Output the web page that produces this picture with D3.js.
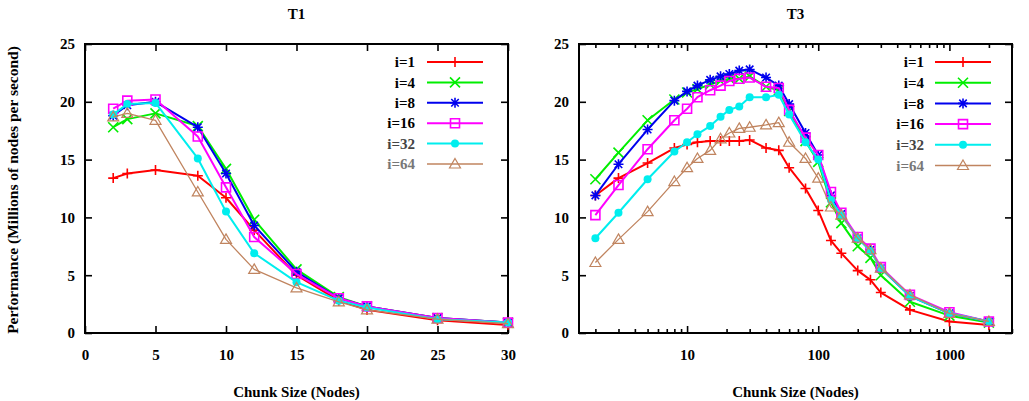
<!DOCTYPE html>
<html>
<head>
<meta charset="utf-8">
<script src="https://cdn.jsdelivr.net/npm/d3@7"></script>
<style>
  body { margin: 0; background: #fff; }
  svg { display: block; }
</style>
</head>
<body>
<div id="chart"></div>
<script>
// series labels
var seriesNames = ["i=1", "i=4", "i=8", "i=16", "i=32", "i=64"];

// T1 data (linear chunk size)
var t1X = [2, 3, 5, 8, 10, 12, 15, 18, 20, 25, 30];
var t1I1 = [13.4, 13.8, 14.1, 13.6, 11.7, 8.9, 5.0, 2.8, 2.0, 1.1, 0.7];
var t1I4 = [17.8, 18.5, 19.0, 17.9, 14.2, 9.8, 5.5, 3.1, 2.3, 1.3, 0.9];
var t1I8 = [18.8, 19.7, 20.0, 17.8, 13.8, 9.3, 5.3, 3.0, 2.3, 1.3, 0.9];
var t1I16 = [19.4, 20.1, 20.2, 17.0, 12.6, 8.3, 5.1, 3.0, 2.3, 1.3, 0.9];
var t1I32 = [18.9, 19.8, 19.9, 15.1, 10.5, 6.9, 4.4, 2.8, 2.2, 1.2, 0.9];
var t1I64 = [18.7, 19.0, 18.4, 12.2, 8.1, 5.5, 3.9, 2.7, 2.0, 1.2, 0.8];

// T3 data (log chunk size)
var t3X = [2, 3, 5, 8, 10, 12, 15, 18, 21, 25, 30, 40, 50, 60, 80, 100, 125, 150, 200, 250, 300, 500, 1000, 2000];
var t3I1 = [11.9, 13.4, 14.7, 16.0, 16.3, 16.5, 16.6, 16.6, 16.6, 16.6, 16.7, 16.0, 15.8, 14.3, 12.5, 10.6, 8.0, 6.9, 5.4, 4.6, 3.5, 2.0, 1.0, 0.7];
var t3I4 = [13.3, 15.6, 18.4, 20.2, 20.8, 21.1, 21.5, 21.8, 22.0, 22.0, 22.2, 21.3, 21.0, 19.2, 16.6, 14.8, 11.3, 9.5, 7.5, 6.5, 5.0, 2.7, 1.5, 0.9];
var t3I8 = [11.9, 14.6, 17.6, 20.1, 20.9, 21.4, 21.9, 22.2, 22.4, 22.7, 22.8, 22.1, 21.4, 19.8, 17.3, 15.4, 11.9, 10.3, 8.2, 7.2, 5.6, 3.2, 1.7, 1.0];
var t3I16 = [10.2, 12.8, 15.9, 18.4, 19.4, 20.4, 21.0, 21.4, 21.8, 22.0, 22.1, 21.3, 21.2, 19.3, 16.9, 15.4, 12.2, 10.4, 8.3, 7.3, 5.7, 3.3, 1.8, 1.0];
var t3I32 = [8.2, 10.4, 13.3, 15.7, 16.5, 17.2, 17.9, 18.7, 19.3, 19.6, 20.4, 20.4, 20.6, 18.9, 16.5, 15.0, 11.5, 10.2, 8.2, 7.1, 5.6, 3.2, 1.7, 1.0];
var t3I64 = [6.1, 8.1, 10.5, 13.1, 14.3, 15.1, 15.8, 16.8, 17.3, 17.7, 17.8, 18.0, 18.2, 16.5, 15.1, 13.4, 10.9, 10.2, 8.2, 7.2, 5.6, 3.3, 1.7, 1.0];

var yTicks = [0, 5, 10, 15, 20, 25];
var t1XTicks = [0, 5, 10, 15, 20, 25, 30];
var t3XMajor = [10, 100, 1000];

var colors = ["#ff0000", "#00ee00", "#0000ee", "#ff00ff", "#00eeee", "#c0845f"];
var widths = [2, 2, 2, 2, 2, 1.3];
var symbols = ["plus", "cross", "star", "square", "circle", "triangle"];
var legendTextColors = ["#000", "#000", "#000", "#000", "#444", "#777"];

var FONT = "'Liberation Serif', 'Times New Roman', serif";

var W = 1029, H = 401;
var svg = d3.select("#chart").append("svg").attr("width", W).attr("height", H)
  .style("font-family", FONT).style("font-weight", "bold");

function markerPath(type, s) {
  if (type == "plus") return "M" + -s + ",0H" + s + "M0," + -s + "V" + s;
  if (type == "cross") return "M" + -s + "," + -s + "L" + s + "," + s + "M" + -s + "," + s + "L" + s + "," + -s;
  if (type == "star") return "M" + -s + ",0H" + s + "M0," + -s + "V" + s +
    "M" + -s * 0.75 + "," + -s * 0.75 + "L" + s * 0.75 + "," + s * 0.75 +
    "M" + -s * 0.75 + "," + s * 0.75 + "L" + s * 0.75 + "," + -s * 0.75;
  if (type == "square") return "M" + -s + "," + -s + "H" + s + "V" + s + "H" + -s + "Z";
  if (type == "triangle") return "M0," + (-s * 1.1) + "L" + s * 1.1 + "," + s * 0.8 + "L" + -s * 1.1 + "," + s * 0.8 + "Z";
  return null;
}

function drawMarker(g, type, cx, cy, color) {
  if (type == "circle") {
    g.append("circle").attr("cx", cx).attr("cy", cy).attr("r", 4).attr("fill", color);
  } else {
    g.append("path")
      .attr("transform", "translate(" + cx + "," + cy + ")")
      .attr("d", markerPath(type, type == "square" ? 4.5 : 5))
      .attr("fill", "none")
      .attr("stroke", color)
      .attr("stroke-width", type == "triangle" ? 1.2 : 1.6);
  }
}

function addText(sel) {
  return sel.append("text").style("font-family", FONT).style("font-weight", "bold");
}

function drawPanel(opt) {
  var x = opt.x, y = opt.y;
  var g = svg.append("g");
  var x0 = x.range()[0], x1 = x.range()[1], y0 = y.range()[0], y1 = y.range()[1];

  // axes with inward ticks, mirrored on top and right
  g.append("g").attr("transform", "translate(0," + y0 + ")")
    .call(d3.axisBottom(x).tickValues(opt.xMajor).tickFormat(opt.xFormat).tickSize(-7).tickSizeOuter(0).tickPadding(16));
  g.append("g").attr("transform", "translate(0," + y1 + ")")
    .call(d3.axisTop(x).tickValues(opt.xMajor).tickFormat("").tickSize(-7).tickSizeOuter(0));
  if (opt.xMinor) {
    g.append("g").attr("transform", "translate(0," + y0 + ")")
      .call(d3.axisBottom(x).tickValues(opt.xMinor).tickFormat("").tickSize(-4).tickSizeOuter(0));
    g.append("g").attr("transform", "translate(0," + y1 + ")")
      .call(d3.axisTop(x).tickValues(opt.xMinor).tickFormat("").tickSize(-4).tickSizeOuter(0));
  }
  g.append("g").attr("transform", "translate(" + x0 + ",0)")
    .call(d3.axisLeft(y).tickValues(yTicks).tickSize(-7).tickSizeOuter(0).tickPadding(10));
  g.append("g").attr("transform", "translate(" + x1 + ",0)")
    .call(d3.axisRight(y).tickValues(yTicks).tickFormat("").tickSize(-7).tickSizeOuter(0));

  g.selectAll(".domain").remove();
  g.selectAll("g").attr("font-family", null);
  g.selectAll(".tick line").attr("stroke", "#000").attr("stroke-width", 1.6);
  g.selectAll(".tick text").attr("fill", "#000")
    .style("font-size", "15px").style("font-family", FONT).style("font-weight", "bold");

  g.append("rect")
    .attr("x", x0).attr("y", y1).attr("width", x1 - x0).attr("height", y0 - y1)
    .attr("fill", "none").attr("stroke", "#000").attr("stroke-width", 2);

  // series
  var line = d3.line()
    .x(function (d) { return x(d[0]); })
    .y(function (d) { return y(d[1]); });

  opt.series.forEach(function (vals, i) {
    var pts = opt.xs.map(function (v, j) { return [v, vals[j]]; });
    g.append("path").datum(pts)
      .attr("d", line)
      .attr("fill", "none")
      .attr("stroke", colors[i])
      .attr("stroke-width", widths[i])
      .attr("stroke-linejoin", "round");
    var mg = g.append("g");
    pts.forEach(function (p) { drawMarker(mg, symbols[i], x(p[0]), y(p[1]), colors[i]); });
  });

  // legend
  var lg = g.append("g");
  seriesNames.forEach(function (name, i) {
    var ly = opt.legendY + i * opt.legendStep;
    addText(lg)
      .attr("x", opt.legendTextX).attr("y", ly).attr("dy", "0.35em")
      .attr("text-anchor", "end")
      .style("font-size", "15px")
      .attr("fill", legendTextColors[i])
      .text(name);
    lg.append("line")
      .attr("x1", opt.legendLineX).attr("x2", opt.legendLineX + 56)
      .attr("y1", ly).attr("y2", ly)
      .attr("stroke", colors[i]).attr("stroke-width", widths[i]);
    drawMarker(lg, symbols[i], opt.legendLineX + 28, ly, colors[i]);
  });

  // title and x label
  addText(svg)
    .attr("x", (x0 + x1) / 2).attr("y", 19)
    .attr("text-anchor", "middle")
    .style("font-size", "15px")
    .text(opt.title);
  addText(svg)
    .attr("x", (x0 + x1) / 2).attr("y", 397)
    .attr("text-anchor", "middle")
    .style("font-size", "15px")
    .text("Chunk Size (Nodes)");
}

var yLeft = d3.scaleLinear().domain([0, 25]).range([333, 44]);
var yRight = d3.scaleLinear().domain([0, 25]).range([333, 44]);
var xT1 = d3.scaleLinear().domain([0, 30]).range([85, 508]);
var xT3 = d3.scaleLog().domain([1.5, 3000]).range([579, 1012]);

// minor log ticks 2..9 per decade inside the domain
var t3XMinor = [];
[1, 10, 100, 1000].forEach(function (dec) {
  for (var k = 2; k <= 9; k++) {
    var v = dec * k;
    if (v >= 1.5 && v <= 3000 && t3XMajor.indexOf(v) < 0) t3XMinor.push(v);
  }
});

drawPanel({
  title: "T1", x: xT1, y: yLeft, xs: t1X,
  xMajor: t1XTicks, xFormat: d3.format("d"),
  series: [t1I1, t1I4, t1I8, t1I16, t1I32, t1I64],
  legendY: 62, legendStep: 20.4, legendTextX: 415, legendLineX: 427
});

drawPanel({
  title: "T3", x: xT3, y: yRight, xs: t3X,
  xMajor: t3XMajor, xMinor: t3XMinor, xFormat: d3.format("d"),
  series: [t3I1, t3I4, t3I8, t3I16, t3I32, t3I64],
  legendY: 62, legendStep: 20.7, legendTextX: 924, legendLineX: 935
});

// shared y label
addText(svg)
  .attr("transform", "translate(18,190) rotate(-90)")
  .attr("text-anchor", "middle")
  .style("font-size", "15.5px")
  .text("Performance (Millions of nodes per second)");
</script>
</body>
</html>
